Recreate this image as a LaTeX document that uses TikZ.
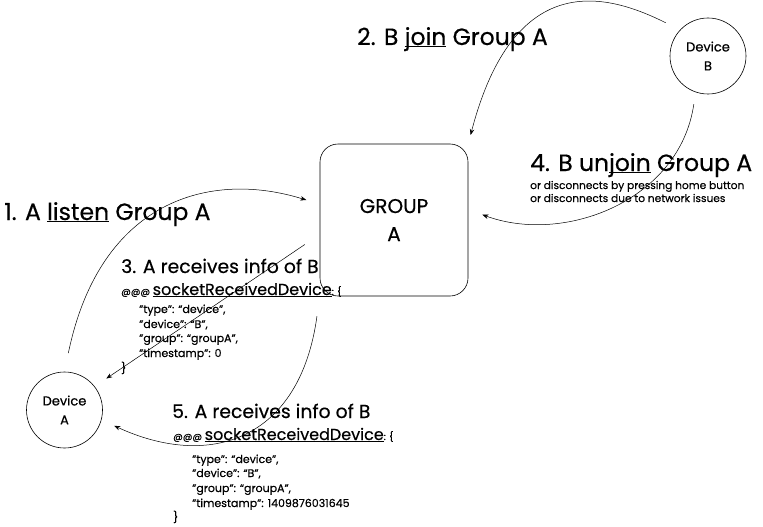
\documentclass[tikz,border=0pt]{standalone}
\usepackage{fontspec}
\setmainfont{Poppins}[FakeBold=0.4]
\usetikzlibrary{arrows.meta}
\tikzset{
  dev/.style={circle, draw, line width=0.6pt, minimum size=76pt, inner sep=0pt, align=center, font=\fontsize{13}{19}\selectfont},
  grpbox/.style={draw, line width=0.6pt, rounded corners=18pt, minimum width=148pt, minimum height=152pt, align=center, font=\fontsize{20}{28}\selectfont},
  head/.style={anchor=base west, inner sep=0pt, font=\fontsize{23.5}{26}\selectfont},
  midhead/.style={anchor=base west, inner sep=0pt, font=\fontsize{18.8}{22}\selectfont},
  note/.style={anchor=base west, inner sep=0pt, font=\fontsize{10.6}{12}\selectfont},
  json/.style={anchor=base west, inner sep=0pt, font=\fontsize{11}{13}\selectfont},
  link/.style={-{Stealth[length=6pt,width=4.5pt]}, line width=0.5pt}
}
\newcommand{\ul}[1]{\underline{\smash{#1}}}
\newcommand{\evname}{{\fontsize{9.5}{11}\selectfont @@@} {\fontsize{16}{18}\selectfont\ul{socketReceivedDevice}}{\fontsize{9.5}{11}\selectfont: \{}}
\begin{document}
\begin{tikzpicture}[x=1pt,y=-1pt]
	\useasboundingbox (0,0) rectangle (763,527);
	% nodes
	\node[grpbox] (grp) at (394,220) {GROUP\\A};
	\node[dev] (devA) at (64.5,410) {Device\\A};
	\node[dev] (devB) at (708,56) {Device\\B};
	% labels
	\node[head] (lbljoin) at (357,45) {2. B \ul{join} Group A};
	\node[head] (lbllisten) at (4,220) {1. A \ul{listen} Group A};
	\node[head] (lblunjoin) at (530,171) {4. B un\ul{join} Group A};
	\node[note] (lblwhy1) at (530,189) {or disconnects by pressing home button};
	\node[note] (lblwhy2) at (530,202) {or disconnects due to network issues};
	\node[midhead] (lblrecv1) at (121,273) {3. A receives info of B};
	\node[anchor=base west, inner sep=0pt] (evone) at (121,295) {\evname};
	\node[midhead] (lblrecv2) at (172,418) {5. A receives info of B};
	\node[anchor=base west, inner sep=0pt] (evtwo) at (173,440) {\evname};
	% payloads
	\node[json] at (139,313) {"type": “device",};
	\node[json] at (139,328) {"device": “B”,};
	\node[json] at (139,342) {"group": “groupA”,};
	\node[json] at (139,357) {"timestamp": 0};
	\node[json] at (121,372) {\}};
	\node[json] at (192,463) {"type": “device",};
	\node[json] at (192,477) {"device": “B”,};
	\node[json] at (192,492) {"group": “groupA”,};
	\node[json] at (192,507) {"timestamp": 1409876031645};
	\node[json] at (173,521) {\}};
	% arrows
	\draw[link, shorten <=19pt, shorten >=14pt] (devA.north) .. controls (100,200) and (210,170) .. (grp.168);
	\draw[link, shorten <=16pt, shorten >=9pt] (devB.137) .. controls (610,-5) and (515,-35) .. (grp.north east);
	\draw[link, shorten <=18pt, shorten >=14pt] (grp.191) -- (devA.38);
	\draw[link, shorten <=12pt, shorten >=15pt] (devB.251) .. controls (680,200) and (565,245) .. (grp.8);
	\draw[link, shorten <=20pt, shorten >=14pt] (grp.south west) .. controls (300,440) and (210,470) .. (devA.-15);
\end{tikzpicture}
\end{document}
